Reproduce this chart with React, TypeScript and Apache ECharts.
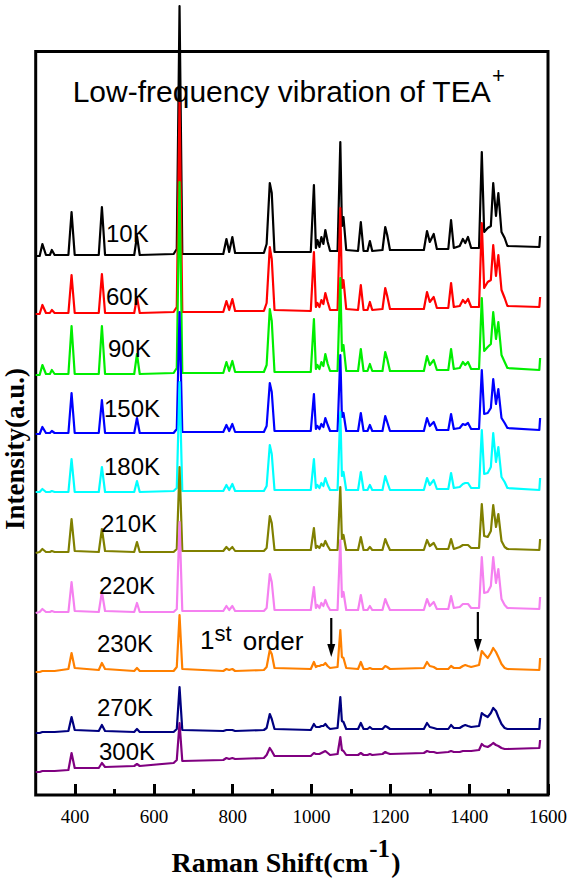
import React, { useEffect, useRef } from "react";
import * as echarts from "echarts";

// Raman shift positions (cm-1) at which every spectrum is sampled
const SHIFT = [
  300, 310, 317, 326, 336, 341, 348, 383, 391, 399,
  460, 468, 476, 550, 557, 564, 650, 658, 665, 672,
  776, 784, 791, 799, 806, 879, 886, 894, 899, 906,
  998, 1006, 1011, 1015, 1020, 1025, 1030, 1035, 1041, 1047,
  1066, 1073, 1077, 1081, 1088, 1118, 1125, 1132, 1142, 1148,
  1154, 1180, 1187, 1192, 1199, 1285, 1293, 1300, 1310, 1318,
  1347, 1354, 1361, 1376, 1384, 1390, 1397, 1405, 1425, 1432,
  1438, 1447, 1455, 1461, 1468, 1474, 1482, 1490, 1497, 1578,
  1580,
];

const TEMPS = ["10K", "60K", "90K", "150K", "180K", "210K", "220K", "230K", "270K", "300K"];

// vertical offset of each spectrum (a.u.)
const LEVELS = [539, 481, 420, 361, 303, 242, 182, 123, 62, 23];

const I_10K = [
  0, 0, 12, 1, 1, 6, 1, 1, 44, 1,
  1, 49, 1, 1, 20, 1, 2, 7, 250, 2,
  2, 17, 4, 19, 3, 3, 12, 73, 63, 4,
  4, 71, 8, 16, 9, 19, 12, 26, 14, 5,
  5, 114, 30, 39, 6, 5, 34, 5, 5, 15,
  5, 6, 29, 21, 6, 6, 25, 14, 22, 7,
  7, 36, 8, 10, 17, 13, 19, 8, 8, 104,
  24, 28, 30, 73, 40, 63, 24, 18, 10, 9,
  20,
];
const I_60K = [
  0, 0, 9, 1, 1, 4, 1, 1, 39, 1,
  1, 40, 1, 1, 17, 1, 2, 7, 213, 2,
  2, 13, 4, 15, 3, 3, 11, 67, 55, 4,
  3, 62, 7, 11, 7, 14, 10, 21, 12, 4,
  4, 106, 26, 34, 5, 4, 29, 4, 4, 12,
  4, 5, 26, 18, 5, 5, 22, 12, 17, 6,
  6, 31, 7, 8, 14, 11, 15, 7, 7, 91,
  26, 32, 34, 69, 38, 59, 24, 16, 8, 7,
  17,
];
const I_90K = [
  0, 0, 10, 1, 1, 5, 1, 1, 49, 1,
  1, 49, 1, 1, 21, 1, 2, 7, 193, 2,
  2, 13, 4, 14, 3, 3, 10, 66, 54, 3,
  3, 56, 6, 10, 6, 13, 9, 21, 11, 4,
  4, 97, 24, 30, 4, 4, 26, 4, 4, 11,
  4, 4, 23, 16, 4, 4, 19, 10, 15, 5,
  5, 26, 6, 7, 13, 10, 13, 6, 6, 77,
  24, 28, 31, 63, 36, 53, 20, 13, 7, 5,
  17,
];
const I_150K = [
  0, 0, 7, 1, 1, 3, 1, 1, 41, 1,
  1, 34, 1, 1, 16, 1, 1, 5, 122, 2,
  2, 9, 3, 10, 2, 2, 8, 51, 42, 3,
  3, 40, 5, 8, 5, 10, 7, 16, 9, 3,
  3, 79, 17, 21, 3, 3, 21, 3, 3, 9,
  3, 3, 18, 12, 3, 3, 16, 8, 12, 4,
  4, 20, 5, 6, 10, 9, 11, 5, 5, 64,
  20, 21, 26, 55, 30, 45, 16, 11, 6, 4,
  16,
];
const I_180K = [
  0, 0, 3, 0, 0, 1, 0, 0, 33, 0,
  0, 25, 0, 0, 11, 0, 1, 4, 110, 1,
  1, 7, 2, 8, 1, 1, 6, 47, 38, 2,
  2, 33, 4, 7, 4, 9, 6, 14, 7, 2,
  2, 80, 16, 20, 2, 2, 20, 2, 2, 7,
  2, 2, 16, 10, 2, 2, 14, 7, 12, 3,
  3, 19, 4, 5, 8, 9, 9, 4, 4, 62,
  18, 19, 25, 59, 30, 45, 15, 10, 4, 2,
  14,
];
const I_210K = [
  0, 1, 4, 1, 1, 2, 1, 1, 34, 2,
  1, 24, 2, 1, 11, 1, 1, 4, 86, 2,
  2, 6, 3, 6, 2, 2, 5, 37, 30, 3,
  3, 25, 5, 7, 5, 9, 7, 12, 7, 3,
  3, 66, 14, 18, 3, 3, 16, 3, 3, 6,
  3, 3, 14, 9, 3, 3, 13, 7, 10, 4,
  4, 14, 4, 6, 8, 8, 8, 5, 5, 49,
  17, 16, 22, 48, 26, 39, 12, 6, 4, 3,
  14,
];
const I_220K = [
  0, 1, 4, 1, 1, 2, 1, 1, 31, 2,
  1, 21, 2, 1, 10, 1, 1, 4, 91, 2,
  2, 7, 3, 7, 2, 2, 5, 39, 31, 3,
  3, 26, 5, 8, 5, 10, 7, 13, 7, 3,
  3, 73, 16, 21, 3, 3, 18, 3, 3, 7,
  3, 3, 14, 9, 3, 3, 14, 7, 11, 4,
  4, 17, 5, 6, 9, 9, 9, 5, 5, 56,
  20, 21, 27, 56, 30, 44, 14, 8, 5, 4,
  16,
];
const I_230K = [
  0, 0, 1, 1, 1, 1, 1, 3, 19, 4,
  2, 9, 3, 1, 4, 1, 1, 5, 57, 3,
  1, 3, 2, 3, 1, 2, 5, 22, 18, 4,
  3, 10, 5, 6, 6, 7, 7, 9, 6, 4,
  5, 42, 15, 14, 4, 3, 10, 3, 3, 4,
  3, 3, 6, 5, 3, 4, 10, 6, 5, 3,
  3, 6, 4, 4, 6, 7, 6, 5, 7, 21,
  18, 14, 19, 24, 20, 15, 8, 4, 3, 2,
  14,
];
const I_270K = [
  0, 0, 1, 1, 1, 1, 1, 2, 16, 3,
  2, 8, 2, 1, 4, 1, 1, 4, 46, 3,
  2, 3, 3, 3, 2, 3, 5, 19, 14, 4,
  3, 9, 6, 6, 6, 7, 7, 9, 6, 4,
  5, 36, 12, 11, 4, 4, 10, 4, 4, 6,
  4, 4, 7, 6, 4, 4, 10, 6, 5, 4,
  4, 8, 5, 5, 7, 8, 7, 6, 7, 20,
  18, 16, 20, 25, 22, 16, 9, 5, 4, 4,
  15,
];
const I_300K = [
  0, 0, 1, 1, 1, 1, 1, 2, 19, 4,
  4, 9, 5, 6, 8, 6, 9, 12, 49, 11,
  12, 14, 13, 14, 13, 14, 17, 24, 21, 16,
  16, 19, 18, 18, 18, 19, 20, 21, 19, 17,
  18, 35, 22, 21, 17, 17, 19, 17, 17, 18,
  17, 18, 20, 19, 18, 19, 21, 20, 20, 19,
  20, 21, 20, 20, 21, 21, 21, 21, 22, 28,
  26, 25, 27, 29, 27, 26, 24, 23, 23, 24,
  32,
];

const SPECTRA = [I_10K, I_60K, I_90K, I_150K, I_180K, I_210K, I_220K, I_230K, I_270K, I_300K];

const COLORS = [
  "#000000", "#ff0000", "#00ee00", "#0000ff", "#00ffff",
  "#808000", "#f580f0", "#ff8000", "#000080", "#800080",
];

const MAJOR_TICKS = [400, 600, 800, 1000, 1200, 1400, 1600];
const MINOR_TICKS = [500, 700, 900, 1100, 1300, 1500];

// arrows marking the first-order features on the 230K trace
const ARROW_SHIFT = [1050, 1422];
const ARROW_FROM = [177, 183];
const ARROW_TO = [138, 143];

// label layout (left x, middle y) in pixels
const LABEL_POS: [number, number][] = [
  [106, 233], [106, 296], [108, 348], [104, 408], [104, 466],
  [101, 523], [99, 585], [97, 643], [97, 707], [99, 751],
];

const SANS = "'Liberation Sans', Arial, sans-serif";
const SERIF = "'Liberation Serif', 'Times New Roman', serif";

function measure(text: string, font: string): number {
  const ctx = document.createElement("canvas").getContext("2d");
  if (!ctx) return text.length * 14;
  ctx.font = font;
  return ctx.measureText(text).width;
}

export default function App() {
  const ref = useRef<HTMLDivElement>(null);

  useEffect(() => {
    const el = ref.current;
    if (!el) return;
    const chart = echarts.init(el, null, { renderer: "svg" });

    const series = SPECTRA.map((vals, k) => ({
      type: "line",
      name: TEMPS[k],
      data: SHIFT.map((x, i) => [x, LEVELS[k] + vals[i]]),
      showSymbol: false,
      symbol: "none",
      clip: false,
      silent: true,
      lineStyle: { color: COLORS[k], width: 2.2, join: "round" },
      itemStyle: { color: COLORS[k] },
    }));

    chart.setOption({
      animation: false,
      grid: {
        left: 35.7,
        right: 12.7,
        top: 51.5,
        bottom: 83,
        show: true,
        borderColor: "#000",
        borderWidth: 3,
        backgroundColor: "transparent",
      },
      xAxis: [
        {
          type: "value",
          min: 300,
          max: 1600,
          position: "bottom",
          axisLine: { show: false },
          splitLine: { show: false },
          axisTick: {
            show: true,
            inside: true,
            length: 11,
            customValues: MAJOR_TICKS,
            lineStyle: { color: "#000", width: 3 },
          },
          axisLabel: {
            customValues: MAJOR_TICKS,
            formatter: (v: number) => String(v),
            margin: 12,
            color: "#000",
            fontFamily: SERIF,
            fontSize: 19,
          },
        },
        {
          type: "value",
          min: 300,
          max: 1600,
          position: "bottom",
          axisLine: { show: false },
          splitLine: { show: false },
          axisTick: {
            show: true,
            inside: true,
            length: 6,
            customValues: MINOR_TICKS,
            lineStyle: { color: "#000", width: 3 },
          },
          axisLabel: { show: false },
        },
      ],
      yAxis: { type: "value", min: 0, max: 743.5, show: false },
      series,
    });

    const plain = (
      text: string,
      x: number,
      y: number,
      size: number,
      family: string = SANS,
      weight: string = "normal"
    ) => ({
      type: "text",
      silent: true,
      z: 100,
      style: {
        text,
        x,
        y,
        fill: "#000",
        fontFamily: family,
        fontWeight: weight,
        fontSize: size,
        textAlign: "left",
        align: "left",
        textVerticalAlign: "middle",
        verticalAlign: "middle",
      },
    });

    const texts: any[] = TEMPS.map((t, k) => plain(t, LABEL_POS[k][0], LABEL_POS[k][1], 24));

    texts.push(plain("Low-frequency vibration of TEA", 72.7, 91, 30));
    texts.push(plain("+", 492, 75, 22));
    texts.push(plain("1", 200, 640, 26));
    texts.push(plain("st", 214.5, 633, 22));
    texts.push(plain("order", 242.7, 641, 26));

    // x-axis title: "Raman Shift(cm" + superscript "-1" + ")"
    const mainFont = `bold 28px ${SERIF}`;
    const supFont = `bold 25px ${SERIF}`;
    const w1 = measure("Raman Shift(cm", mainFont);
    const w2 = measure("-1", supFont);
    const w3 = measure(")", mainFont);
    const x0 = 285 - (w1 + w2 + w3) / 2;
    texts.push(plain("Raman Shift(cm", x0, 862, 28, SERIF, "bold"));
    texts.push(plain("-1", x0 + w1 + 1, 848, 25, SERIF, "bold"));
    texts.push(plain(")", x0 + w1 + w2 + 2, 862, 28, SERIF, "bold"));

    texts.push({
      type: "text",
      silent: true,
      z: 100,
      x: 15,
      y: 449,
      rotation: Math.PI / 2,
      style: {
        text: "Intensity(a.u.)",
        x: 0,
        y: 0,
        fill: "#000",
        fontFamily: SERIF,
        fontWeight: "bold",
        fontSize: 27,
        textAlign: "center",
        align: "center",
        textVerticalAlign: "middle",
        verticalAlign: "middle",
      },
    });

    const arrows: any[] = [];
    ARROW_SHIFT.forEach((x, i) => {
      const p0 = chart.convertToPixel({ seriesIndex: 7 }, [x, ARROW_FROM[i]]) as number[];
      const p1 = chart.convertToPixel({ seriesIndex: 7 }, [x, ARROW_TO[i]]) as number[];
      arrows.push({
        type: "line",
        silent: true,
        z: 100,
        shape: { x1: p0[0], y1: p0[1], x2: p1[0], y2: p1[1] - 10 },
        style: { stroke: "#000", lineWidth: 2.2 },
      });
      arrows.push({
        type: "polygon",
        silent: true,
        z: 100,
        shape: {
          points: [
            [p1[0] - 4, p1[1] - 13],
            [p1[0] + 4, p1[1] - 13],
            [p1[0], p1[1]],
          ],
        },
        style: { fill: "#000" },
      });
    });

    chart.setOption({ graphic: [...texts, ...arrows] });

    return () => {
      chart.dispose();
    };
  }, []);

  return (
    <div
      ref={ref}
      style={{ position: "absolute", left: 0, top: 0, width: 570, height: 878, background: "#fff" }}
    />
  );
}
